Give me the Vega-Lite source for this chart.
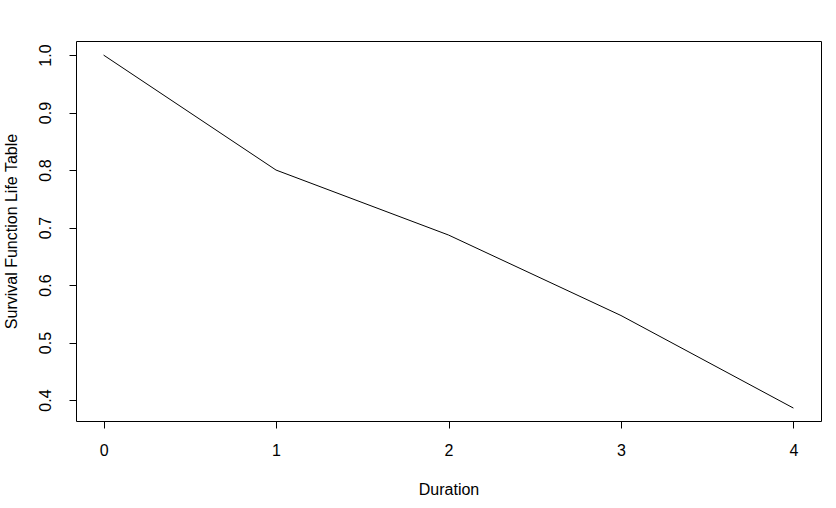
{
  "$schema": "https://vega.github.io/schema/vega-lite/v6.json",
  "width": 745,
  "height": 380,
  "autosize": {"type": "none"},
  "padding": {"left": 76, "top": 41, "right": 15, "bottom": 87},
  "background": "white",
  "config": {
    "view": {"stroke": "black", "strokeWidth": 1},
    "font": "Liberation Sans",
    "axis": {
      "domain": false,
      "grid": false,
      "ticks": true,
      "tickColor": "black",
      "tickSize": 7,
      "labelColor": "black",
      "labelFont": "Liberation Sans",
      "labelFontSize": 16,
      "titleFont": "Liberation Sans",
      "titleFontSize": 16,
      "titleFontWeight": "normal",
      "titleColor": "black"
    }
  },
  "data": {
    "values": [
      {"Duration": 0, "Survival": 1.0},
      {"Duration": 1, "Survival": 0.8},
      {"Duration": 2, "Survival": 0.687},
      {"Duration": 3, "Survival": 0.547},
      {"Duration": 4, "Survival": 0.386}
    ]
  },
  "mark": {"type": "line", "color": "black", "strokeWidth": 1},
  "encoding": {
    "x": {
      "field": "Duration",
      "type": "quantitative",
      "scale": {"domain": [-0.16, 4.16], "nice": false, "zero": false},
      "axis": {"values": [0, 1, 2, 3, 4], "labelPadding": 14, "title": "Duration", "titlePadding": 23, "labelFlush": false}
    },
    "y": {
      "field": "Survival",
      "type": "quantitative",
      "scale": {"domain": [0.3635, 1.0245], "nice": false, "zero": false},
      "axis": {
        "values": [0.4, 0.5, 0.6, 0.7, 0.8, 0.9, 1.0],
        "format": ".1f",
        "labelAngle": -90,
        "labelAlign": "center",
        "labelBaseline": "bottom",
        "labelPadding": 16,
        "labelFlush": false,
        "title": "Survival Function Life Table",
        "titlePadding": 18
      }
    }
  }
}
